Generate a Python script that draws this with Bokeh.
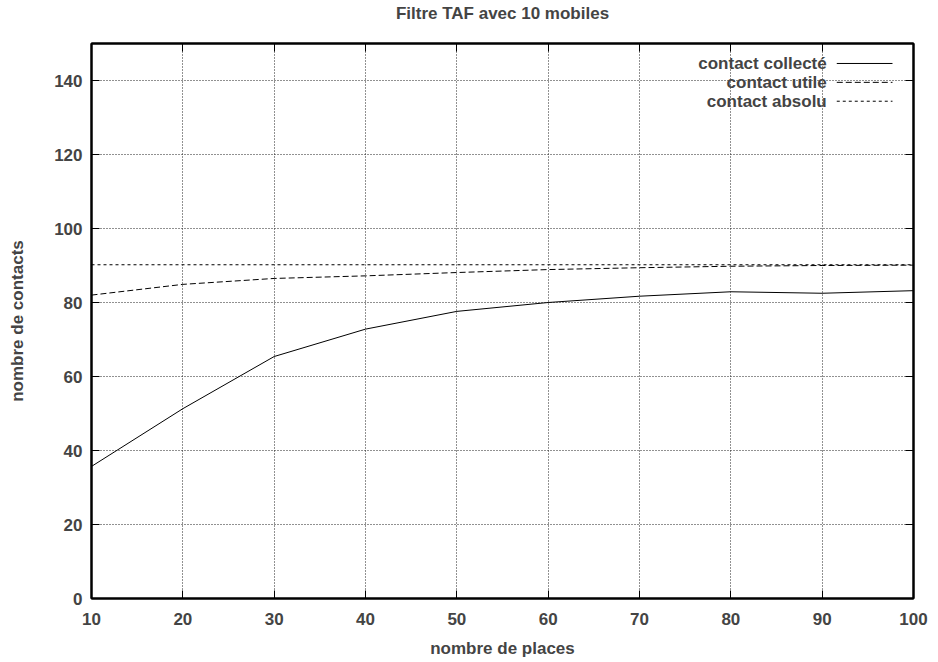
from bokeh.plotting import figure
from bokeh.models import LinearAxis, FixedTicker, Range1d, Label, Arrow
from bokeh.embed import file_html
from bokeh.resources import INLINE

places = [10, 20, 30, 40, 50, 60, 70, 80, 90, 100]
collecte = [35.7, 51.3, 65.4, 72.8, 77.6, 80.0, 81.7, 82.9, 82.5, 83.2]
utile = [82.0, 84.9, 86.5, 87.2, 88.1, 88.9, 89.4, 89.8, 90.0, 90.1]
absolu = [90.2] * 10
x_ticks = [10, 20, 30, 40, 50, 60, 70, 80, 90, 100]
y_ticks = [0, 20, 40, 60, 80, 100, 120, 140]
legend_names = ["contact collecté", "contact utile", "contact absolu"]
title_text = "Filtre TAF avec 10 mobiles"

FONT = "Liberation Sans"

p = figure(width=930, height=660, output_backend="svg", toolbar_location=None,
           x_range=Range1d(10, 100), y_range=Range1d(0, 150),
           min_border_left=91, min_border_right=17, min_border_top=42, min_border_bottom=61,
           title=title_text + "\n ")
p.title.align = "center"
p.title.text_font = FONT
p.title.text_font_size = "17px"
p.title.text_font_style = "bold"
p.title.text_line_height = 1.0
p.title.standoff = 3
p.title.offset = 2

p.outline_line_color = "black"
p.outline_line_width = 2
p.background_fill_color = "white"
p.border_fill_color = "white"

for ax in (p.xaxis[0], p.yaxis[0]):
    ax.major_tick_in = 8
    ax.major_tick_out = 0
    ax.minor_tick_in = 0
    ax.minor_tick_out = 0
    ax.axis_line_color = "black"
    ax.axis_line_width = 2
    ax.major_tick_line_width = 1
    ax.major_label_text_font = FONT
    ax.major_label_text_font_size = "17px"
    ax.major_label_text_font_style = "bold"
    ax.axis_label_text_font = FONT
    ax.axis_label_text_font_size = "17px"
    ax.axis_label_text_font_style = "bold"

p.xaxis[0].ticker = FixedTicker(ticks=x_ticks)
p.yaxis[0].ticker = FixedTicker(ticks=y_ticks)
p.xaxis[0].axis_label = "nombre de places"
p.yaxis[0].axis_label = "nombre de contacts"
p.xaxis[0].major_label_standoff = 14
p.yaxis[0].major_label_standoff = 9
p.xaxis[0].axis_label_standoff = 11
p.yaxis[0].axis_label_standoff = 24

# mirrored ticks (no labels drawn)
top = LinearAxis(ticker=FixedTicker(ticks=x_ticks), major_tick_in=8, major_tick_out=0,
                 minor_tick_in=0, minor_tick_out=0, major_label_text_font_size="1px",
                 major_label_text_color=None, axis_line_width=2, major_label_standoff=0)
right = LinearAxis(ticker=FixedTicker(ticks=y_ticks), major_tick_in=8, major_tick_out=0,
                   minor_tick_in=0, minor_tick_out=0, major_label_text_font_size="1px",
                   major_label_text_color=None, axis_line_width=2, major_label_standoff=0)
p.add_layout(top, "above")
p.add_layout(right, "right")

p.xgrid.ticker = FixedTicker(ticks=x_ticks)
p.ygrid.ticker = FixedTicker(ticks=y_ticks)
for g in (p.xgrid[0], p.ygrid[0]):
    g.grid_line_color = "#222222"
    g.grid_line_dash = "1 2"
    g.grid_line_width = 1

p.line(places, collecte, line_color="black", line_width=1)
p.line(places, utile, line_color="black", line_width=1, line_dash="6 3")
p.line(places, absolu, line_color="black", line_width=1, line_dash="3 3")

# gnuplot style key (text right-aligned, sample on right)
dashes = ["solid", "6 3", "3 3"]
key_y = [144.6, 139.5, 134.4]
for name, dash, yy in zip(legend_names, dashes, key_y):
    p.add_layout(Label(x=90.5, y=yy, text=name, text_align="right", text_baseline="middle",
                       text_font=FONT, text_font_size="17px", text_font_style="bold"))
    p.add_layout(Arrow(x_start=91.6, y_start=yy, x_end=97.7, y_end=yy, end=None,
                       line_color="black", line_width=1, line_dash=dash))

open("out.html", "w").write(file_html(p, INLINE))
